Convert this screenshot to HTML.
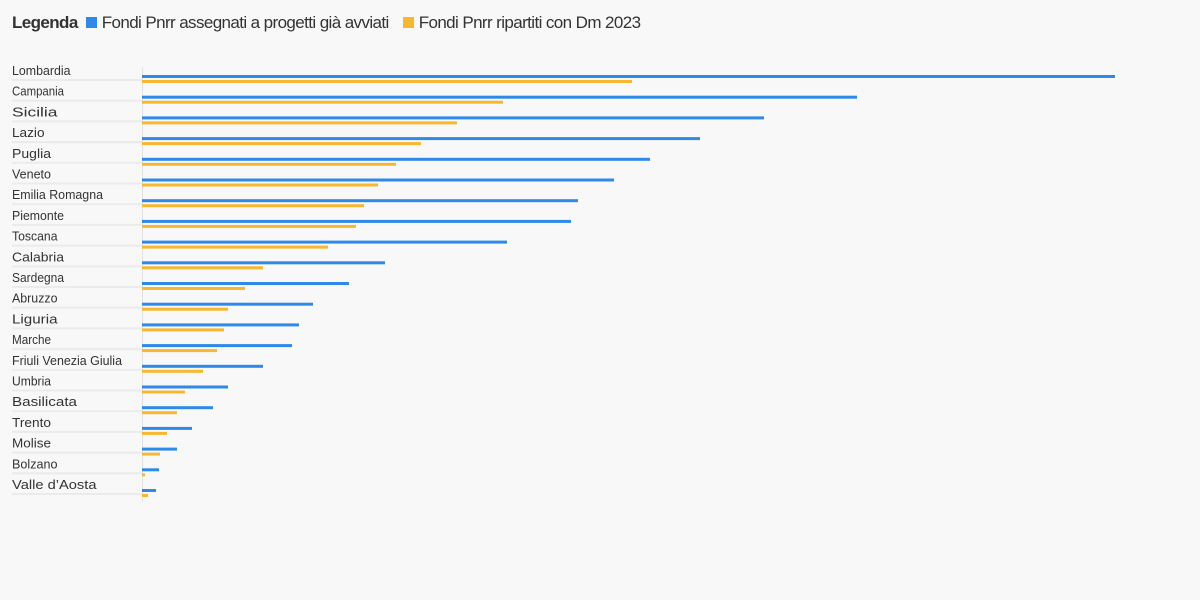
<!DOCTYPE html>
<html><head><meta charset="utf-8"><style>
body{margin:0;background:#f8f8f8;width:1200px;height:600px;overflow:hidden;font-family:"Liberation Sans",sans-serif;color:#333}
#legend{position:absolute;left:12px;top:13px;font-size:17px;white-space:nowrap;letter-spacing:-0.6px}
#legend b{margin-right:8px}
.sw{display:inline-block;width:11px;height:11px;margin-right:5px;vertical-align:0}
.li{margin-right:14px}
</style></head><body>
<div id="legend"><b>Legenda</b><span class="li"><span class="sw" style="background:#2f89e8"></span>Fondi Pnrr assegnati a progetti già avviati</span><span class="li"><span class="sw" style="background:#f7b731"></span>Fondi Pnrr ripartiti con Dm 2023</span></div>
<svg id="chart" width="1200" height="600" style="position:absolute;left:0;top:0"></svg>
<script>
const categories=["Lombardia","Campania","Sicilia","Lazio","Puglia","Veneto","Emilia Romagna","Piemonte","Toscana","Calabria","Sardegna","Abruzzo","Liguria","Marche","Friuli Venezia Giulia","Umbria","Basilicata","Trento","Molise","Bolzano","Valle d’Aosta"];
const assegnati=[973,715,622,558,508,472,436,429,365,243,207,171,157,150,121,86,71,50,35,17,14];
const ripartiti=[490,361,315,279,254,236,222,214,186,121,103,86,82,75,61,43,35,25,18,3,6];
const NS="http://www.w3.org/2000/svg";
const svg=document.getElementById('chart');
const x0=142,maxV=973,maxW=973;
const xs=v=>v/maxV*maxW;
const yRow=i=>62+i*20.7;
function mk(t,a){const e=document.createElementNS(NS,t);for(const k in a)e.setAttribute(k,a[k]);svg.appendChild(e);return e;}
const ax=mk('line',{x1:x0+0.5,x2:x0+0.5,y1:67,y2:502,stroke:'#e2e2e2','stroke-width':1});


categories.forEach((c,i)=>{
 const y=yRow(i);
 const t=mk('text',{x:12,y:y+13,'font-size':13,fill:'#333','font-family':'Liberation Sans, sans-serif',textLength:Math.min(c.length*6.5,110),lengthAdjust:'spacingAndGlyphs'});
 t.textContent=c;
 
 
 const s=mk('rect',{x:12,y:y+17,width:130,height:2,fill:'#ebebeb'});
 
 
 const b=mk('rect',{x:x0,y:y+13,width:xs(assegnati[i]),height:3,fill:'#2f89e8'});
 
 
 const o=mk('rect',{x:x0,y:y+18,width:xs(ripartiti[i]),height:3,fill:'#f7b731'});
 
 
});
</script>
</body></html>
